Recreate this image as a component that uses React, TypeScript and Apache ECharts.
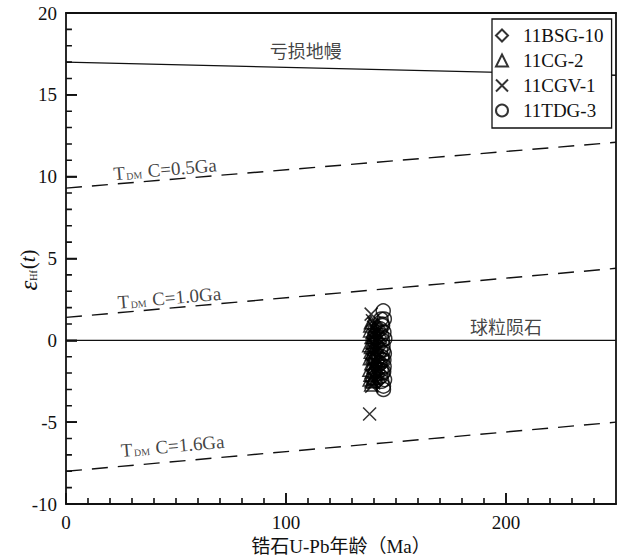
import React, { useEffect, useRef } from 'react';
import * as echarts from 'echarts';

// ---- data ----
const xMin = 0;
const xMax = 250;
const yMin = -10;
const yMax = 20;

const xMajorTicks = [0, 100, 200];
const xMinorTicks = [10, 20, 30, 40, 50, 60, 70, 80, 90, 110, 120, 130, 140, 150, 160, 170, 180, 190, 210, 220, 230, 240];
const yMajorTicks = [-10, -5, 0, 5, 10, 15, 20];
const yMinorTicks = [-9, -8, -7, -6, -4, -3, -2, -1, 1, 2, 3, 4, 6, 7, 8, 9, 11, 12, 13, 14, 16, 17, 18, 19];

const refAges = [0, 250];
const depletedMantle = [17.0, 16.2];
const tdm05 = [9.3, 12.1];
const tdm10 = [1.4, 4.4];
const tdm16 = [-8.0, -5.0];
const chondrite = [0, 0];

const sampleNames = ['11BSG-10', '11CG-2', '11CGV-1', '11TDG-3'];

const bsg10: [number, number][] = [
  [141.5, 0.9], [142.0, 0.4], [141.2, 0.0], [142.5, -0.4], [141.8, -0.8], [142.3, -1.2],
  [141.0, -1.5], [142.1, -1.9], [141.6, -2.3], [142.6, 0.2], [141.3, -0.6], [142.4, -1.6],
  [141.9, -2.1], [142.7, -0.9], [141.4, 0.6], [142.2, -2.5], [140.8, -1.0], [142.9, -1.4],
  [141.1, -2.0], [142.8, -0.1], [140.9, 0.3], [141.7, -1.3], [141.5, -0.2], [142.0, -1.7],
  [141.2, -2.6], [142.4, 0.7],
];
const cg2: [number, number][] = [
  [138.6, 1.1], [138.2, 0.6], [138.9, 0.2], [137.8, -0.3], [138.5, -0.7], [138.1, -1.1],
  [138.8, -1.4], [137.9, -1.8], [138.4, -2.1], [138.0, -2.4], [138.7, -2.7], [139.2, -0.1],
  [139.4, -1.0], [139.0, -1.9], [138.3, 0.9], [139.3, 0.5], [139.8, -1.6], [139.6, -2.3],
  [139.9, -0.5], [140.1, 0.7], [139.1, -0.8], [138.6, -0.4], [139.5, 0.2], [138.9, -2.5],
];
const cgv1: [number, number][] = [
  [138.7, 1.6], [139.3, 1.2], [139.8, 0.8], [140.2, 0.3], [139.5, -0.2], [140.4, -0.7],
  [139.6, -1.2], [140.1, -1.7], [139.2, -2.2], [139.9, -2.6], [138.0, -4.5], [140.6, -1.4],
  [140.5, 0.0], [139.7, -0.9], [140.8, -2.0], [141.0, 0.5], [140.3, -2.4], [141.2, -1.1],
  [139.0, -2.8], [140.0, 1.0], [140.7, -0.4], [139.4, -1.5],
];
const tdg3: [number, number][] = [
  [144.2, 1.8], [144.7, 1.3], [143.9, 0.9], [144.5, 0.5], [144.9, 0.1], [144.1, -0.3],
  [144.7, -0.8], [143.8, -1.2], [144.6, -1.6], [144.0, -2.0], [144.8, -2.4], [144.3, -2.8],
  [144.3, -3.0], [143.4, 0.3], [143.6, -1.0], [143.3, -1.8], [143.7, 1.0], [143.5, -2.5],
  [143.0, -0.6], [142.8, -1.4], [143.1, -2.2], [142.9, 0.7], [144.4, -1.9], [143.8, 0.0],
  [144.2, -0.6], [143.2, 1.3], [144.5, -1.2],
];

const annotations = [
  { text: '{c|亏损地幔}', age: 109, eps: 17.75, rotate: 0 },
  { text: '{t|T}{d|DM}{t| C=0.5Ga}', age: 45, eps: 10.45, rotate: 5 },
  { text: '{t|T}{d|DM}{t| C=1.0Ga}', age: 47, eps: 2.6, rotate: 5 },
  { text: '{t|T}{d|DM}{t| C=1.6Ga}', age: 48.5, eps: -6.45, rotate: 5 },
  { text: '{c|球粒陨石}', age: 200, eps: 0.85, rotate: 0 },
];

const SERIF = '"Liberation Serif", "Times New Roman", serif';
const CJK = '"Noto Sans CJK SC", sans-serif';
const MIXED = '"Liberation Serif", "Noto Sans CJK SC", serif';
const INK = '#111111';

const crossPath = 'path://M0,0L10,10M10,0L0,10';

function refLine(name: string, ys: number[], dashed: boolean) {
  return {
    name,
    type: 'line',
    xAxisIndex: 0,
    yAxisIndex: 0,
    data: refAges.map((a, i) => [a, ys[i]]),
    symbol: 'none',
    silent: true,
    z: 1,
    lineStyle: { color: INK, width: 1.4, type: dashed ? [16, 10] : 'solid' },
  };
}

function sampleSeries(name: string, data: [number, number][], symbol: string, size: number) {
  return {
    name,
    type: 'scatter',
    xAxisIndex: 0,
    yAxisIndex: 0,
    data,
    symbol,
    symbolSize: size,
    z: 3,
    itemStyle: { color: 'rgba(0,0,0,0)', borderColor: '#000', borderWidth: 1.5 },
  };
}

// inward tick marks as broken line segments; len is in axis units
function tickLine(values: number[], dir: 'x' | 'y', len: number) {
  const data: any[] = [];
  values.forEach((v) => {
    if (dir === 'x') {
      data.push([v, yMin], [v, yMin + len]);
    } else {
      data.push([xMin, v], [xMin + len, v]);
    }
    data.push(['-', '-']);
  });
  return {
    type: 'line',
    xAxisIndex: 0,
    yAxisIndex: 0,
    data,
    symbol: 'none',
    connectNulls: false,
    silent: true,
    clip: false,
    z: 6,
    lineStyle: { color: INK, width: 1.6, type: 'solid' },
  };
}

export default function App() {
  const ref = useRef<HTMLDivElement>(null);
  useEffect(() => {
    if (!ref.current) return;
    const chart = echarts.init(ref.current, undefined, { renderer: 'svg' });
    const option: any = {
      animation: false,
      backgroundColor: '#ffffff',
      grid: {
        left: 66, right: 10, top: 13, bottom: 56,
        show: false,
        containLabel: false,
        outerBoundsMode: 'none',
      },
      legend: {
        data: sampleNames,
        orient: 'vertical',
        left: 492,
        top: 19,
        itemWidth: 12,
        itemHeight: 12,
        itemGap: 6,
        padding: [7, 8, 8, 3],
        borderColor: INK,
        borderWidth: 1.3,
        backgroundColor: '#ffffff',
        selectedMode: false,
        z: 10,
        textStyle: { fontFamily: SERIF, fontSize: 19, color: INK, padding: [0, 0, 0, 10] },
      },
      graphic: [
        {
          type: 'text',
          x: 28,
          y: 270,
          rotation: Math.PI / 2,
          style: {
            text: '{e|ε}{s|Hf}{p|(}{t|t}{p|)}',
            align: 'center',
            verticalAlign: 'middle',
            rich: {
              e: { fontFamily: SERIF, fontSize: 25, fontStyle: 'italic', fill: INK },
              s: { fontFamily: SERIF, fontSize: 10, fill: INK, padding: [10, 1, 0, 0] },
              p: { fontFamily: SERIF, fontSize: 21, fill: INK },
              t: { fontFamily: SERIF, fontSize: 21, fontStyle: 'italic', fill: INK },
            },
          },
        },
      ],
      xAxis: [
        {
          type: 'value', min: xMin, max: xMax, interval: 100,
          position: 'bottom',
          name: '锆石U-Pb年龄（Ma）',
          nameLocation: 'middle',
          nameGap: 33,
          nameMoveOverlap: false,
          nameTextStyle: { fontFamily: MIXED, fontSize: 19, color: INK },
          axisLine: { show: true, onZero: false, lineStyle: { color: INK, width: 1.8 } },
          axisTick: { show: true, inside: true, length: 11, lineStyle: { color: INK, width: 1.6 } },
          axisLabel: {
            show: true, showMaxLabel: false, margin: 9,
            fontFamily: SERIF, fontSize: 19, color: INK,
          },
          splitLine: { show: false },
        },
        {
          type: 'value', min: xMin, max: xMax,
          position: 'top',
          axisLine: { show: true, onZero: false, lineStyle: { color: INK, width: 1.8 } },
          axisTick: { show: false },
          axisLabel: { show: false },
          splitLine: { show: false },
        },
      ],
      yAxis: [
        {
          type: 'value', min: yMin, max: yMax, interval: 5,
          position: 'left',
          axisLine: { show: true, onZero: false, lineStyle: { color: INK, width: 1.8 } },
          axisTick: { show: true, inside: true, length: 11, lineStyle: { color: INK, width: 1.6 } },
          axisLabel: { margin: 9, fontFamily: SERIF, fontSize: 19, color: INK },
          splitLine: { show: false },
        },
        {
          type: 'value', min: yMin, max: yMax,
          position: 'right',
          axisLine: { show: true, onZero: false, lineStyle: { color: INK, width: 1.8 } },
          axisTick: { show: false },
          axisLabel: { show: false },
          splitLine: { show: false },
        },
      ],
      series: [
        refLine('DM', depletedMantle, false),
        refLine('T05', tdm05, true),
        refLine('T10', tdm10, true),
        refLine('T16', tdm16, true),
        refLine('CHUR', chondrite, false),
        sampleSeries('11BSG-10', bsg10, 'diamond', 13),
        sampleSeries('11CG-2', cg2, 'triangle', 13),
        sampleSeries('11CGV-1', cgv1, crossPath, 13),
        sampleSeries('11TDG-3', tdg3, 'circle', 14),
        tickLine(xMajorTicks, 'x', 0.67),
        tickLine(xMinorTicks, 'x', 0.37),
        tickLine(yMajorTicks, 'y', 5),
        tickLine(yMinorTicks, 'y', 2.7),
        {
          name: 'annotations',
          type: 'scatter',
          symbolSize: 0,
          silent: true,
          z: 4,
          data: annotations.map((a) => ({
            value: [a.age, a.eps],
            label: { rotate: a.rotate, formatter: a.text },
          })),
          label: {
            show: true,
            position: 'inside',
            color: INK,
            rich: {
              c: { fontFamily: CJK, fontSize: 18, color: INK },
              t: { fontFamily: SERIF, fontSize: 19, color: INK },
              d: { fontFamily: SERIF, fontSize: 10, color: INK, padding: [7, 1, 0, 1] },
            },
          },
        },
      ],
    };
    chart.setOption(option);
    return () => chart.dispose();
  }, []);
  return (
    <div
      ref={ref}
      style={{ position: 'fixed', left: 0, top: 0, width: 626, height: 560 }}
    />
  );
}
